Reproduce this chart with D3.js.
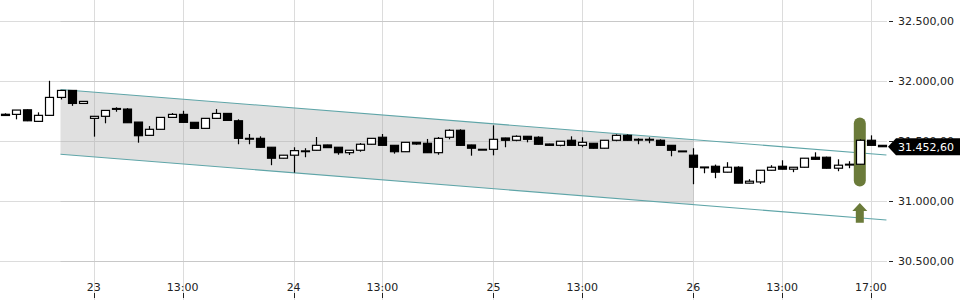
<!DOCTYPE html>
<html><head><meta charset="utf-8">
<script src="https://cdn.jsdelivr.net/npm/d3@7"></script>
<style>html,body{margin:0;padding:0;background:#fff;}svg{display:block;font-family:"DejaVu Sans",sans-serif;}</style>
</head><body>
<svg id="c" width="960" height="300"></svg>
<script>
const opens  = [31722,31721,31759,31663,31713,31862,31920,31812,31688,31705,31770,31765,31657,31547,31597,31696,31721,31655,31605,31688,31729,31668,31522,31522,31448,31357,31382,31415,31423,31467,31448,31403,31423,31473,31531,31464,31411,31489,31481,31403,31531,31589,31467,31431,31431,31525,31506,31539,31531,31475,31464,31506,31464,31481,31440,31506,31547,31514,31514,31506,31464,31417,31382,31284,31290,31241,31282,31150,31160,31257,31290,31266,31282,31365,31365,31274,31305,31307,31506,31464];
const highs  = [31730,31757,31762,31738,32000,31922,31922,31830,31706,31757,31780,31773,31658,31624,31698,31732,31751,31656,31690,31765,31731,31680,31558,31539,31450,31384,31448,31440,31533,31469,31450,31425,31483,31524,31558,31466,31491,31491,31517,31533,31597,31597,31469,31431,31630,31527,31547,31541,31539,31477,31500,31539,31531,31483,31508,31555,31555,31522,31531,31514,31466,31417,31440,31284,31304,31324,31290,31183,31257,31299,31340,31282,31357,31406,31370,31348,31332,31514,31547,31464];
const lows   = [31710,31680,31665,31660,31710,31845,31792,31810,31536,31647,31743,31652,31486,31545,31595,31694,31653,31603,31603,31686,31669,31473,31473,31446,31299,31355,31237,31365,31421,31443,31386,31384,31411,31471,31462,31395,31409,31469,31401,31386,31514,31462,31378,31431,31381,31448,31498,31489,31471,31462,31456,31462,31448,31438,31438,31498,31504,31473,31481,31462,31373,31417,31141,31232,31191,31239,31150,31148,31144,31255,31264,31241,31280,31346,31272,31249,31274,31305,31462,31452.6];
const closes = [31712,31757,31668,31713,31862,31920,31812,31829,31705,31754,31763,31652,31544,31597,31696,31721,31655,31605,31688,31729,31671,31522,31517,31448,31357,31382,31420,31418,31464,31445,31403,31423,31473,31522,31464,31411,31489,31475,31403,31522,31589,31464,31440,31431,31514,31506,31539,31514,31473,31464,31498,31464,31489,31440,31506,31547,31506,31512,31512,31464,31423,31417,31282,31282,31241,31282,31150,31166,31257,31282,31266,31282,31357,31348,31274,31299,31307,31506,31464,31452.6];

const xTickIdx    = [8,16,26,34,44,52,62,70,78];
const xTickLabels = ["23","13:00","24","13:00","25","13:00","26","13:00","17:00"];
const yTicks      = [30500,31000,31500,32000,32500];

const channelIdx   = [5, 79.4];
const channelUpper = [31928, 31384];
const channelLower = [31390, 30844];
const shadeEndIdx  = 62;
const highlightIdx = 77;
const lastPrice    = 31452.60;

const svg = d3.select("#c");
const x = d3.scaleLinear().domain([0,79]).range([5, 882]);
const y = d3.scaleLinear().domain([30500,32500]).range([261.4,20.6]);
const loc = d3.formatLocale({decimal:",", thousands:".", grouping:[3], currency:["","€"]});
const fmt = loc.format(",.2f");
const grid = "#dcdcdc";

// horizontal grid
svg.append("g").selectAll("line").data(yTicks).join("line")
  .attr("x1",0).attr("x2",887)
  .attr("y1",d=>Math.round(y(d))+0.5).attr("y2",d=>Math.round(y(d))+0.5)
  .attr("stroke",grid).attr("stroke-width",1);
// vertical grid
svg.append("g").selectAll("line").data(xTickIdx).join("line")
  .attr("x1",d=>Math.round(x(d))+0.5).attr("x2",d=>Math.round(x(d))+0.5)
  .attr("y1",0).attr("y2",300)
  .attr("stroke",grid).attr("stroke-width",1);

// channel shade
const lineAt = (arr, i) => arr[0] + (arr[1]-arr[0])*(i-channelIdx[0])/(channelIdx[1]-channelIdx[0]);
const shadePts = [
  [x(channelIdx[0]), y(channelUpper[0])],
  [x(shadeEndIdx), y(lineAt(channelUpper, shadeEndIdx))],
  [x(shadeEndIdx), y(lineAt(channelLower, shadeEndIdx))],
  [x(channelIdx[0]), y(channelLower[0])]
];
svg.append("path").attr("d", d3.line()(shadePts)+"Z").attr("fill","#dedede").attr("opacity",0.95);
// re-draw grid over shade lightly
svg.append("g").selectAll("line").data(yTicks).join("line")
  .attr("x1",x(channelIdx[0])).attr("x2",x(shadeEndIdx))
  .attr("y1",d=>Math.round(y(d))+0.5).attr("y2",d=>Math.round(y(d))+0.5)
  .attr("stroke","#c8c8c8").attr("stroke-width",1);
svg.append("g").selectAll("line").data(xTickIdx.filter(d=>d>channelIdx[0] && d<=shadeEndIdx)).join("line")
  .attr("x1",d=>Math.round(x(d))+0.5).attr("x2",d=>Math.round(x(d))+0.5)
  .attr("y1",d=>y(lineAt(channelUpper,d))).attr("y2",d=>y(lineAt(channelLower,d)))
  .attr("stroke","#c8c8c8").attr("stroke-width",1);

// channel lines
[channelUpper, channelLower].forEach(arr=>{
  svg.append("line")
    .attr("x1",x(channelIdx[0])).attr("y1",y(arr[0]))
    .attr("x2",x(channelIdx[1])).attr("y2",y(arr[1]))
    .attr("stroke","#5fa5a8").attr("stroke-width",1.1);
});

// highlight
const green = "#6b7b3a";
svg.append("rect")
  .attr("x",x(highlightIdx)-6).attr("width",12)
  .attr("y",117.5).attr("height",69)
  .attr("rx",6).attr("fill",green);
// arrow up
const ax = x(highlightIdx);
const arrowTop = y(30985), arrowBase = y(30920), arrowBottom = y(30820);
svg.append("path")
  .attr("d",`M${ax},${arrowTop} L${ax+7.5},${arrowTop+8} L${ax+4},${arrowTop+8} L${ax+4},${arrowBottom} L${ax-4},${arrowBottom} L${ax-4},${arrowTop+8} L${ax-7.5},${arrowTop+8} Z`)
  .attr("fill",green);

// candles
const data = opens.map((o,i)=>({i,o,h:highs[i],l:lows[i],c:closes[i]}));
const cg = svg.append("g");
cg.selectAll("line").data(data).join("line")
  .attr("x1",d=>Math.round(x(d.i))+0.5).attr("x2",d=>Math.round(x(d.i))+0.5)
  .attr("y1",d=>y(d.h)).attr("y2",d=>y(d.l))
  .attr("stroke","#000").attr("stroke-width",1.2);
cg.selectAll("rect").data(data).join("rect")
  .attr("x",d=>Math.round(x(d.i))+0.5-4).attr("width",8)
  .attr("y",d=>y(Math.max(d.o,d.c)))
  .attr("height",d=>Math.max(0.8, Math.abs(y(d.o)-y(d.c))))
  .attr("fill",d=>d.c>d.o?"#fff":"#000")
  .attr("stroke","#000").attr("stroke-width",1.2);

// right axis
const ya = svg.append("g");
ya.selectAll("line").data(yTicks).join("line")
  .attr("x1",889).attr("x2",893)
  .attr("y1",d=>Math.round(y(d))+0.5).attr("y2",d=>Math.round(y(d))+0.5)
  .attr("stroke","#222");
ya.selectAll("text").data(yTicks).join("text")
  .attr("x",898).attr("y",d=>y(d)).attr("dy","0.36em")
  .attr("font-size",11).attr("fill","#222").text(d=>fmt(d));

// bottom axis
const xa = svg.append("g");
xa.selectAll("line").data(xTickIdx).join("line")
  .attr("x1",d=>Math.round(x(d))+0.5).attr("x2",d=>Math.round(x(d))+0.5)
  .attr("y1",293).attr("y2",298).attr("stroke","#222");
xa.selectAll("text").data(xTickIdx).join("text")
  .attr("x",d=>x(d)).attr("y",291)
  .attr("text-anchor","middle").attr("font-size",11).attr("fill","#222")
  .text((d,i)=>xTickLabels[i]);

// last price label
const py = y(lastPrice);
svg.append("path")
  .attr("d",`M888,${py} L896,${py-8.5} L960,${py-8.5} L960,${py+8.5} L896,${py+8.5} Z`)
  .attr("fill","#000");
svg.append("text").attr("x",898).attr("y",py).attr("dy","0.36em")
  .attr("font-size",11).attr("fill","#fff").text(fmt(lastPrice));
</script>
</body></html>
